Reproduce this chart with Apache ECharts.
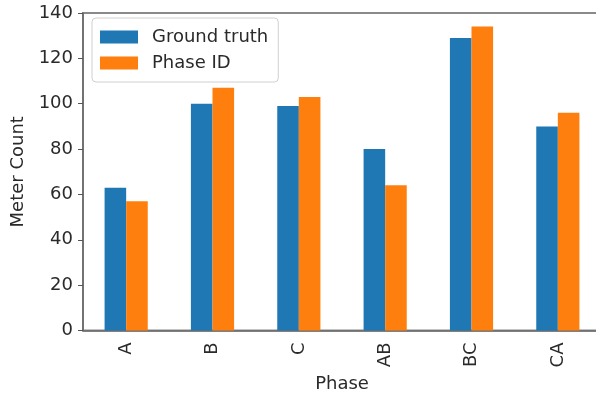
<!DOCTYPE html>
<html>
<head>
<meta charset="utf-8">
<script src="https://cdn.jsdelivr.net/npm/echarts@6/dist/echarts.min.js"></script>
<style>html,body{margin:0;padding:0;background:#fff;overflow:hidden;}#chart{width:603px;height:394px;}</style>
</head>
<body>
<div id="chart"></div>
<script>
const categories = ['A', 'B', 'C', 'AB', 'BC', 'CA'];
const groundTruth = [63, 100, 99, 80, 129, 90];
const phaseId = [57, 107, 103, 64, 134, 96];
const yTicks = { min: 0, max: 140, interval: 20 };

const font = 'DejaVu Sans';
const chart = echarts.init(document.getElementById('chart'), null, { renderer: 'canvas' });
chart.setOption({
  animation: false,
  backgroundColor: '#fff',
  grid: { left: 83, top: 13, right: 2, bottom: 63.5, outerBoundsMode: 'none', containLabel: false, show: true, borderColor: '#8a8a8a', borderWidth: 2, backgroundColor: 'transparent' },
  legend: {
    orient: 'vertical', left: 92, top: 18,
    icon: 'rect', itemWidth: 38, itemHeight: 13, itemGap: 6,
    padding: [9, 10, 9, 8],
    borderColor: '#d0d0d0', borderWidth: 1, borderRadius: 4,
    textStyle: { fontFamily: font, fontSize: 18, color: '#2a2a2a', lineHeight: 20, padding: [0, 0, 0, 9] },
    data: ['Ground truth', 'Phase ID']
  },
  xAxis: {
    type: 'category', data: categories,
    name: 'Phase', nameLocation: 'middle', nameGap: 39,
    nameTextStyle: { fontFamily: font, fontSize: 18, color: '#2a2a2a' },
    axisLine: { lineStyle: { color: '#6a6a6a', width: 1.5 } },
    axisTick: { alignWithLabel: true, length: 5, lineStyle: { color: '#555' } },
    axisLabel: { rotate: 90, fontFamily: font, fontSize: 18, color: '#2a2a2a', margin: 12 }
  },
  yAxis: {
    type: 'value', min: yTicks.min, max: yTicks.max, interval: yTicks.interval,
    name: 'Meter Count', nameLocation: 'middle', nameGap: 56,
    nameTextStyle: { fontFamily: font, fontSize: 18, color: '#2a2a2a' },
    axisLine: { show: true, lineStyle: { color: '#6a6a6a', width: 1.5 } },
    axisTick: { show: true, length: 5, lineStyle: { color: '#555' } },
    axisLabel: { fontFamily: font, fontSize: 18, color: '#2a2a2a', margin: 10 },
    splitLine: { show: false }
  },
  series: [
    { name: 'Ground truth', type: 'bar', data: groundTruth, barWidth: '25%', barGap: '0%', itemStyle: { color: '#1f77b4' } },
    { name: 'Phase ID', type: 'bar', data: phaseId, barWidth: '25%', barGap: '0%', itemStyle: { color: '#ff7f0e' } }
  ]
});
</script>
</body>
</html>
